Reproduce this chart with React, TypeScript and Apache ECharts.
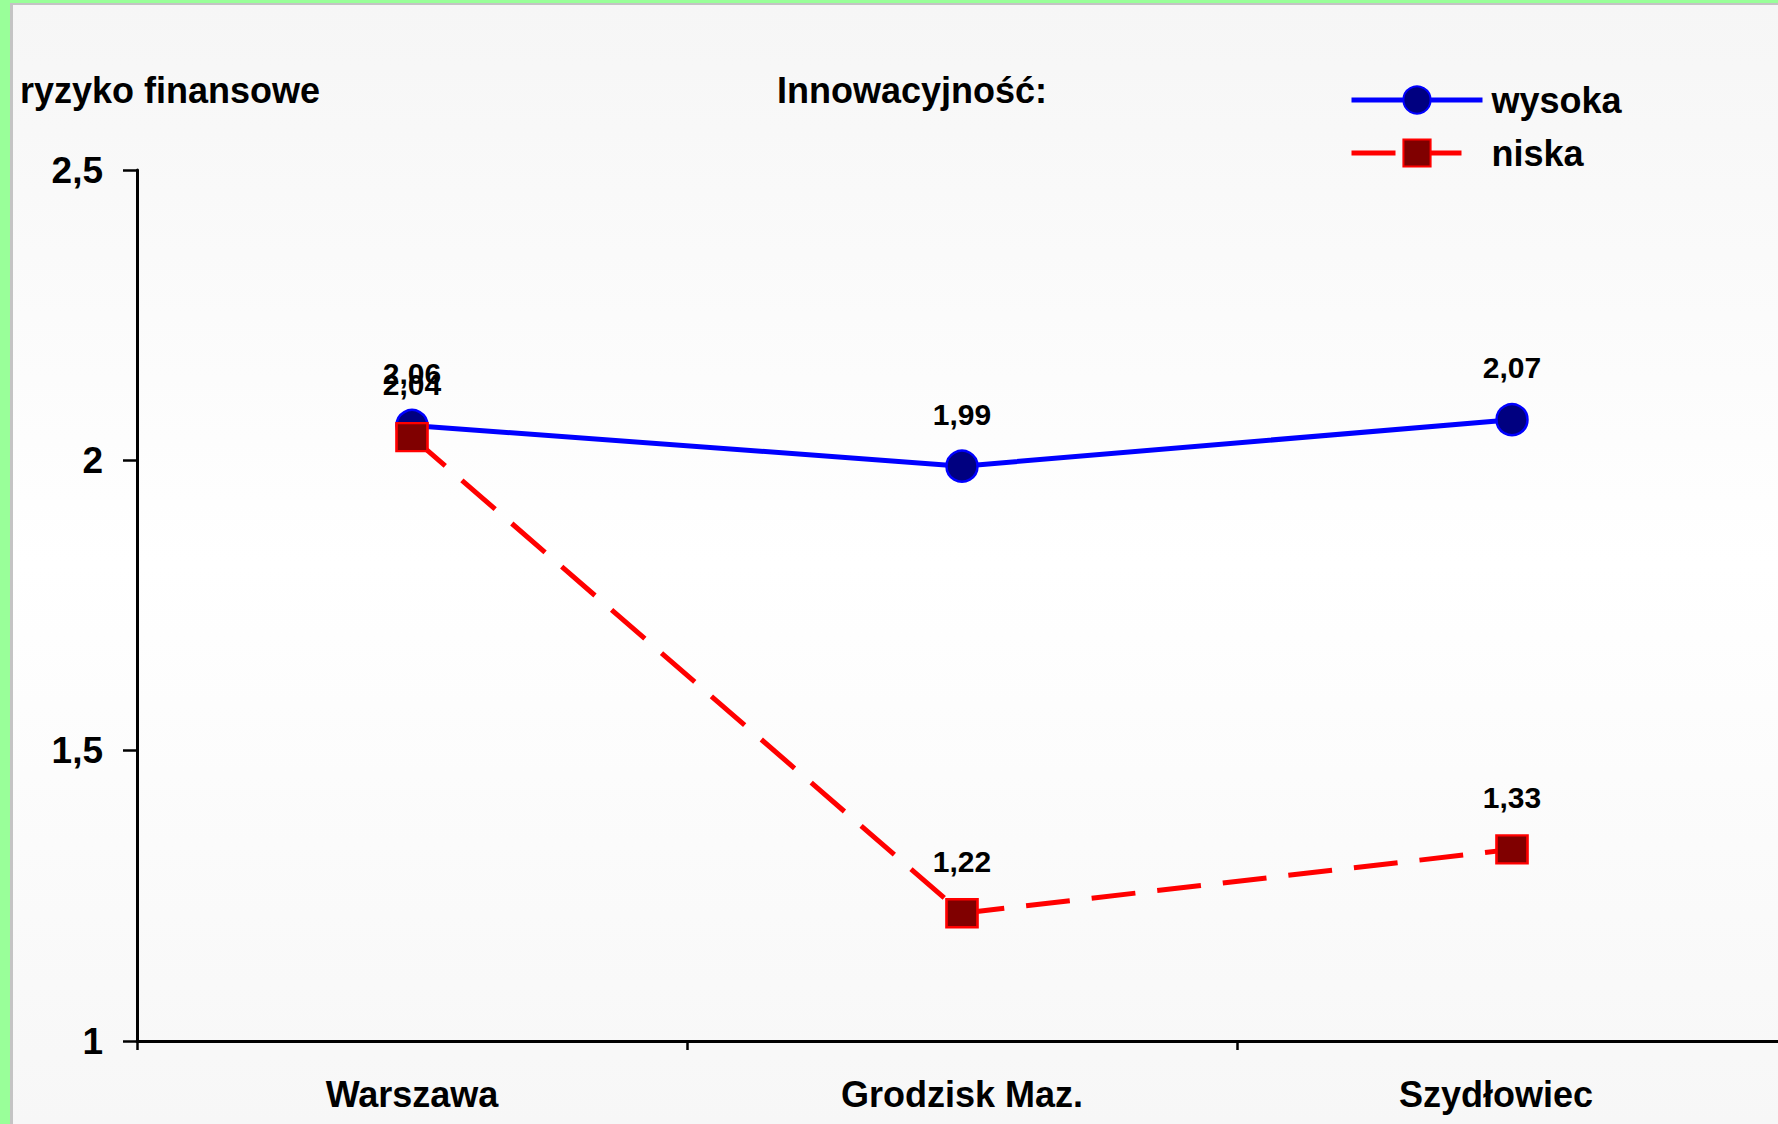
import React, { useEffect, useRef } from "react";
import * as echarts from "echarts";

const categories = ["Warszawa", "Grodzisk Maz.", "Szydłowiec"];
const seriesNames = ["wysoka", "niska"];
const wysokaValues = [2.06, 1.99, 2.07];
const niskaValues = [2.04, 1.22, 1.33];
const yTicks = { min: 1, max: 2.5, interval: 0.5 };
const yAxisTitle = "ryzyko finansowe";
const legendTitle = "Innowacyjność:";

const FONT = "'Liberation Sans', Arial, sans-serif";

const fmt = (v: number) => String(v).replace(".", ",");

export default function App() {
  const ref = useRef<HTMLDivElement>(null);

  useEffect(() => {
    document.body.style.margin = "0";
    if (!ref.current) return;
    const chart = echarts.init(ref.current, undefined, { renderer: "svg" });
    const catLabelStyle = {
      fontSize: 36,
      fontWeight: "bold",
      color: "#000",
      fontFamily: FONT,
    };
    chart.setOption({
      animation: false,
      backgroundColor: "transparent",
      textStyle: { fontFamily: FONT },
      grid: { left: 137, top: 170, bottom: 83, right: 13, containLabel: false },
      legend: {
        orient: "vertical",
        left: 1349,
        top: 82,
        padding: 0,
        itemWidth: 131,
        itemHeight: 34,
        itemGap: 17,
        data: seriesNames,
        lineStyle: { width: 5 },
        textStyle: {
          fontFamily: FONT,
          fontSize: 36,
          fontWeight: "bold",
          color: "#000",
          padding: [0, 0, 0, 4],
        },
      },
      graphic: [
        {
          type: "text",
          x: 20,
          y: 90,
          style: {
            text: yAxisTitle,
            font: `bold 36px ${FONT}`,
            fill: "#000",
            verticalAlign: "middle",
          },
        },
        {
          type: "text",
          x: 777,
          y: 90,
          style: {
            text: legendTitle,
            font: `bold 36px ${FONT}`,
            fill: "#000",
            verticalAlign: "middle",
          },
        },
      ],
      xAxis: {
        type: "category",
        data: categories,
        boundaryGap: true,
        axisLine: { lineStyle: { color: "#000", width: 3 } },
        axisTick: { show: true, length: 9, lineStyle: { color: "#000", width: 2.5 } },
        axisLabel: {
          margin: 35,
          ...catLabelStyle,
          formatter: (v: string, i: number) =>
            i === categories.length - 1 ? `{last|${v}}` : `{n|${v}}`,
          rich: {
            n: { ...catLabelStyle },
            last: { ...catLabelStyle, padding: [0, 32, 0, 0] },
          },
        },
        splitLine: { show: false },
      },
      yAxis: {
        type: "value",
        min: yTicks.min,
        max: yTicks.max,
        interval: yTicks.interval,
        axisLine: { show: true, lineStyle: { color: "#000", width: 3 } },
        axisTick: { show: true, length: 14, lineStyle: { color: "#000", width: 2.5 } },
        axisLabel: {
          margin: 34,
          fontSize: 37,
          fontWeight: "bold",
          color: "#000",
          fontFamily: FONT,
          formatter: (v: number) => fmt(v),
        },
        splitLine: { show: false },
      },
      series: [
        {
          name: seriesNames[0],
          type: "line",
          data: wysokaValues,
          symbol: "circle",
          symbolSize: 31,
          lineStyle: { color: "#0000ff", width: 5 },
          itemStyle: { color: "#000080", borderColor: "#0000ff", borderWidth: 2.5 },
          label: {
            show: true,
            position: "top",
            distance: 20,
            fontSize: 30,
            fontWeight: "bold",
            color: "#000",
            fontFamily: FONT,
            formatter: (p: any) => fmt(p.value),
          },
          z: 2,
        },
        {
          name: seriesNames[1],
          type: "line",
          data: niskaValues,
          symbol: "rect",
          symbolSize: [31, 28],
          lineStyle: { color: "#ff0000", width: 5, type: [44, 22] },
          itemStyle: { color: "#800000", borderColor: "#ff0000", borderWidth: 2.5 },
          label: {
            show: true,
            position: "top",
            distance: 22,
            fontSize: 30,
            fontWeight: "bold",
            color: "#000",
            fontFamily: FONT,
            formatter: (p: any) => fmt(p.value),
          },
          z: 3,
        },
      ],
    });
    return () => chart.dispose();
  }, []);

  return (
    <div
      style={{
        position: "absolute",
        left: 0,
        top: 0,
        width: 1778,
        height: 1124,
        background: "#99ff99",
        overflow: "hidden",
      }}
    >
      <div
        style={{
          position: "absolute",
          left: 10,
          top: 3,
          right: 0,
          bottom: 0,
          borderLeft: "3px solid #c4c4c4",
          borderTop: "2px solid #c4c4c4",
          background: "linear-gradient(to bottom, #f6f6f6 0%, #ffffff 50%, #f7f7f7 100%)",
        }}
      />
      <div
        ref={ref}
        style={{ position: "absolute", left: 0, top: 0, width: 1800, height: 1124 }}
      />
    </div>
  );
}
